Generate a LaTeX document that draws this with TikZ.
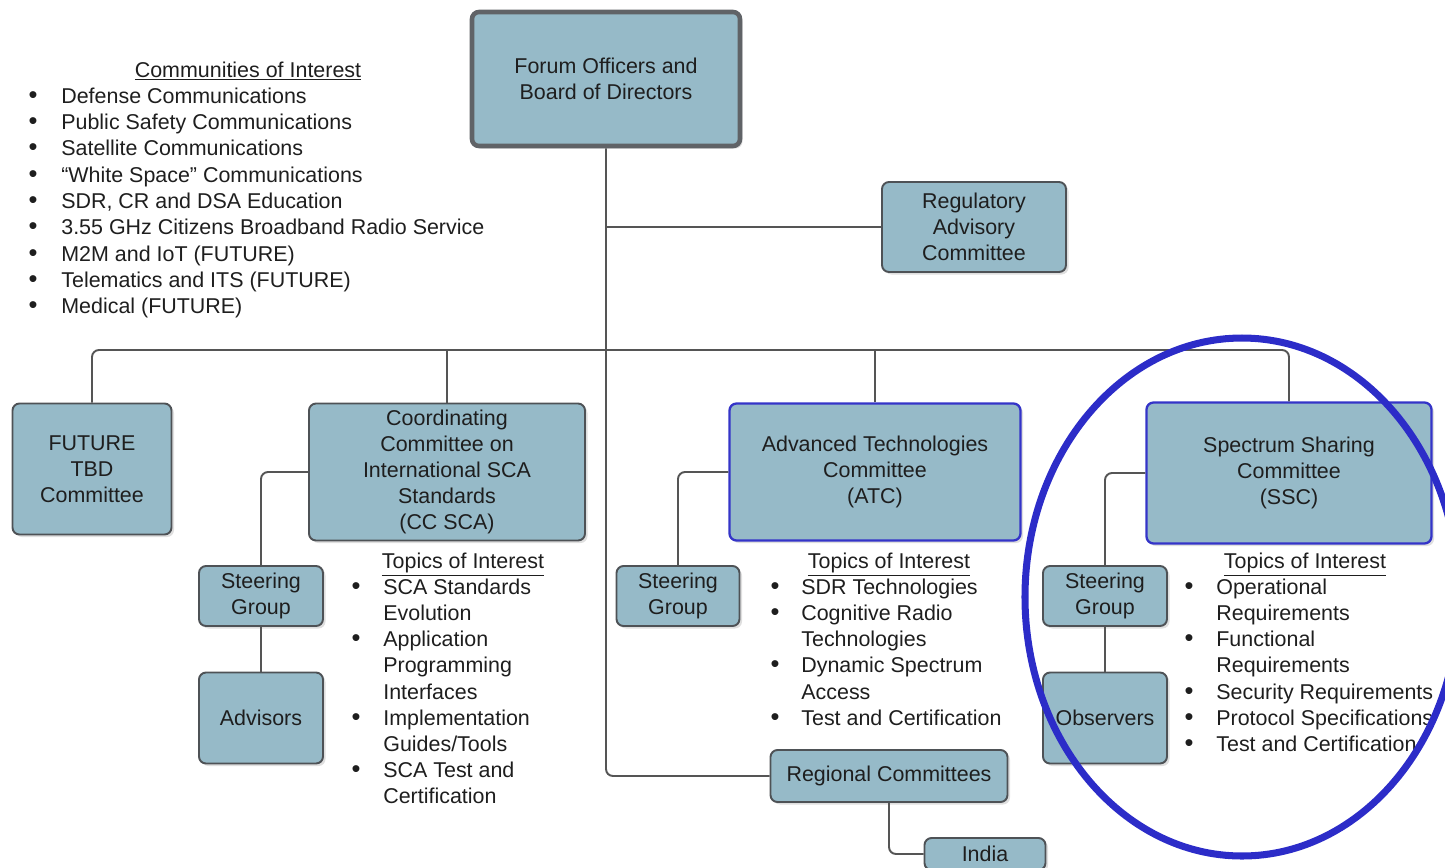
\documentclass[tikz,border=0pt]{standalone}
\usepackage{fontspec}
\setmainfont{Liberation Sans}
\usetikzlibrary{shadows}
\definecolor{boxfill}{RGB}{150,186,200}
\definecolor{boxline}{RGB}{78,82,86}
\definecolor{linkgray}{RGB}{85,85,85}
\definecolor{hiblue}{RGB}{52,52,200}
\definecolor{ringblue}{RGB}{44,44,200}
\definecolor{inktext}{RGB}{30,30,30}
\tikzstyle{txt} = [font=\fontsize{12.2}{14.8}\selectfont, text=inktext]
\tikzstyle{unit} = [txt, rectangle, rounded corners=0.14cm, draw=boxline, line width=1.1pt, fill=boxfill, align=center, inner sep=0pt, drop shadow={shadow xshift=0.05cm, shadow yshift=-0.05cm, opacity=0.25}]
\tikzstyle{board} = [unit, line width=2.6pt, draw=boxline!90]
\tikzstyle{focus} = [unit, draw=hiblue, line width=1.3pt]
\tikzstyle{link} = [linkgray, line width=1.1pt, rounded corners=0.14cm]
\tikzstyle{item} = [txt, anchor=base west, inner sep=0pt]
\tikzstyle{dot} = [txt, font=\fontsize{14.5}{14.8}\selectfont, anchor=base, inner sep=0pt]
\tikzstyle{head} = [txt, anchor=base, inner sep=0pt]
\tikzstyle{ring} = [ringblue, line width=4pt]
\tikzset{dims/.style 2 args={minimum width=#1*0.02cm, minimum height=#2*0.02cm}}

\begin{document}
\begin{tikzpicture}[x=0.02cm, y=-0.02cm]
        \useasboundingbox (0,0) rectangle (1445,867);

        \node (forum) [board, dims={268}{134}] at (606,79) {Forum Officers and\\Board of Directors};
        \node (regadv) [unit, dims={184}{90}] at (974,227) {Regulatory\\Advisory\\Committee};

        \node (future) [unit, dims={159}{131}] at (92,469) {FUTURE\\TBD\\Committee};
        \node (ccsca) [unit, dims={276}{137}] at (447,472) {Coordinating\\Committee on\\International SCA\\Standards\\(CC SCA)};
        \node (atc) [focus, dims={291}{137}] at (875,472) {Advanced Technologies\\Committee\\(ATC)};
        \node (ssc) [focus, dims={285}{141}] at (1289,473) {Spectrum Sharing\\Committee\\(SSC)};

        \node (ccsteer) [unit, dims={124}{60}] at (261,596) {Steering\\Group};
        \node (ccadv) [unit, dims={124}{91}] at (261,718) {Advisors};
        \node (atcsteer) [unit, dims={123}{60}] at (678,596) {Steering\\Group};
        \node (sscsteer) [unit, dims={124}{60}] at (1105,596) {Steering\\Group};
        \node (sscobs) [unit, dims={124}{91}] at (1105,718) {Observers};

        \node (regional) [unit, dims={237}{52}] at (889,776) {Regional Committees};
        \node (india) [unit, dims={121}{32}] at (985,854) {India};

        \coordinate (bus) at (606,350);

        \draw [link] (forum.south) |- (regional.west);
        \draw [link] (forum.south |- regadv.west) -- (regadv.west);
        \draw [link] (future.north) |- (bus) -| (ssc.north);
        \draw [link] (ccsca.north) -- (ccsca.north |- bus);
        \draw [link] (atc.north) -- (atc.north |- bus);

        \draw [link] (ccsca.west) -| (ccsteer.north);
        \draw [link] (ccsteer) -- (ccadv);
        \draw [link] (atc.west) -| (atcsteer.north);
        \draw [link] (ssc.west) -| (sscsteer.north);
        \draw [link] (sscsteer) -- (sscobs);
        \draw [link] (regional.south) |- (india.west);

        \node (coihead) [head] at (248,77) {\underline{Communities of Interest}};
        \foreach \t [count=\i] in {Defense Communications, Public Safety Communications, Satellite Communications, “White Space” Communications, {SDR, CR and DSA Education}, 3.55 GHz Citizens Broadband Radio Service, M2M and IoT (FUTURE), Telematics and ITS (FUTURE), Medical (FUTURE)} {
            \node (coi\i) [item] at (61,77+26.3*\i) {\t};
            \node (coidot\i) [dot] at (33,77+26.3*\i) {\textbullet};
        }

        \node (cchead) [head] at (463,568) {\underline{Topics of Interest}};
        \foreach \t [count=\i] in {SCA Standards, Evolution, Application, Programming, Interfaces, Implementation, {Guides/Tools}, SCA Test and, Certification}
            \node (cctopic\i) [item] at (383,568+26.2*\i) {\t};
        \foreach \i in {1,3,6,8}
            \node (ccdot\i) [dot] at (356,568+26.2*\i) {\textbullet};

        \node (atchead) [head] at (889,568) {\underline{Topics of Interest}};
        \foreach \t [count=\i] in {SDR Technologies, Cognitive Radio, Technologies, Dynamic Spectrum, Access, Test and Certification}
            \node (atctopic\i) [item] at (801,568+26.2*\i) {\t};
        \foreach \i in {1,2,4,6}
            \node (atcdot\i) [dot] at (775,568+26.2*\i) {\textbullet};

        \node (sschead) [head] at (1305,568) {\underline{Topics of Interest}};
        \foreach \t [count=\i] in {Operational, Requirements, Functional, Requirements, Security Requirements, Protocol Specifications, Test and Certification}
            \node (ssctopic\i) [item] at (1216,568+26.2*\i) {\t};
        \foreach \i in {1,3,5,6,7}
            \node (sscdot\i) [dot] at (1189,568+26.2*\i) {\textbullet};

        \draw [ring] (1242,597) ellipse [x radius=217, y radius=259];
\end{tikzpicture}
\end{document}
